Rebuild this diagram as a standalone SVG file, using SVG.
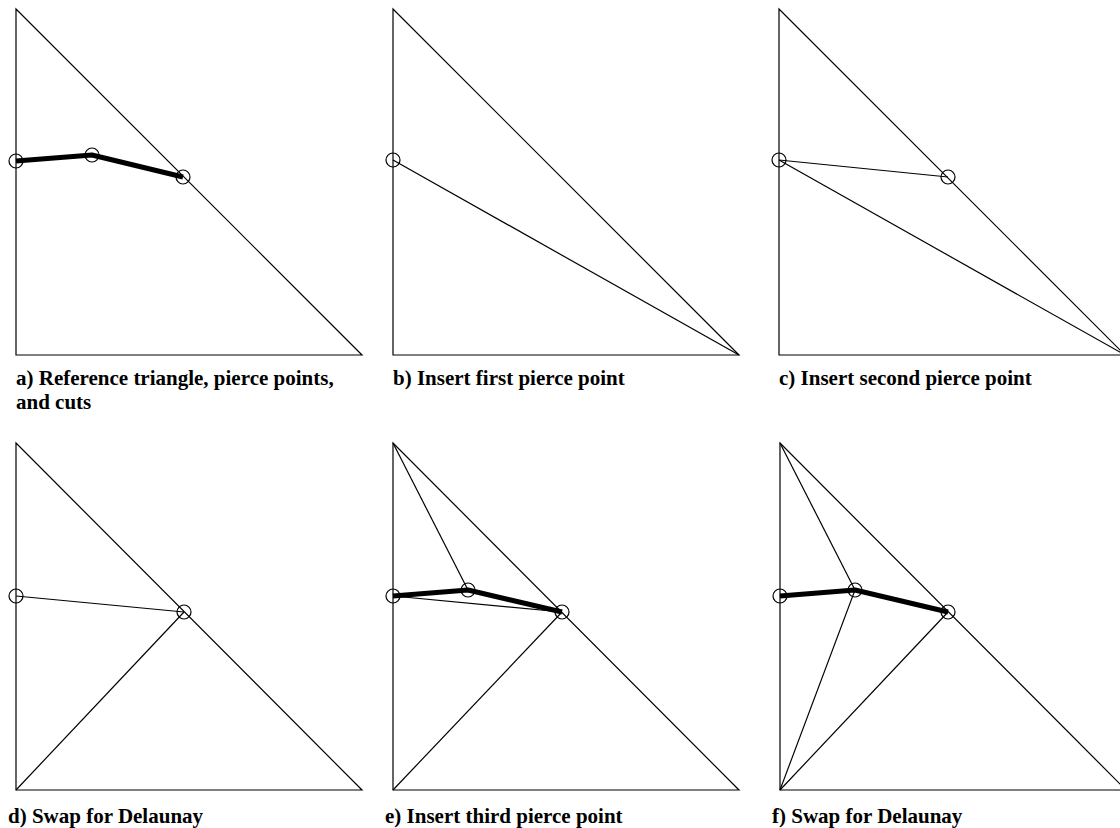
<svg xmlns="http://www.w3.org/2000/svg" width="1120" height="828" viewBox="0 0 1120 828">
<style>
.tri{fill:none;stroke:#000;stroke-width:1.2}
.e{stroke:#000;stroke-width:1.2;fill:none}
.cut{stroke:#000;stroke-width:5;fill:none;stroke-linejoin:round}
.pt{fill:none;stroke:#000;stroke-width:1.2}
.lbl{font-family:"Liberation Serif",serif;font-weight:bold;font-size:21px;fill:#000}
</style>
<rect width="1120" height="828" fill="#fff"/>
<g id="panel-a">
<polygon class="tri" points="16,9 16,355 362,355"/>
<polyline class="cut" points="16,161 92,155 183,177"/>
<circle class="pt" cx="16" cy="161" r="7"/>
<circle class="pt" cx="92" cy="155" r="7"/>
<circle class="pt" cx="183" cy="177" r="7"/>
<text class="lbl" x="16" y="385">a) Reference triangle, pierce points,</text>
<text class="lbl" x="16" y="409">and cuts</text>
</g>
<g id="panel-b">
<polygon class="tri" points="393,9 393,355 739,355"/>
<line class="e" x1="393" y1="160" x2="739" y2="355"/>
<circle class="pt" cx="393" cy="160" r="7"/>
<text class="lbl" x="393" y="385">b) Insert first pierce point</text>
</g>
<g id="panel-c">
<polygon class="tri" points="779,9 779,355 1125,355"/>
<line class="e" x1="779" y1="160" x2="948" y2="177"/>
<line class="e" x1="779" y1="160" x2="1125" y2="355"/>
<circle class="pt" cx="779" cy="160" r="7"/>
<circle class="pt" cx="948" cy="177" r="7"/>
<text class="lbl" x="779" y="385">c) Insert second pierce point</text>
</g>
<g id="panel-d">
<polygon class="tri" points="16,443 16,790 362,790"/>
<line class="e" x1="16" y1="596" x2="184" y2="612"/>
<line class="e" x1="16" y1="790" x2="184" y2="612"/>
<circle class="pt" cx="16" cy="596" r="7"/>
<circle class="pt" cx="184" cy="612" r="7"/>
<text class="lbl" x="8" y="823">d) Swap for Delaunay</text>
</g>
<g id="panel-e">
<polygon class="tri" points="393,443 393,790 739,790"/>
<line class="e" x1="393" y1="443" x2="468" y2="590"/>
<line class="e" x1="393" y1="596" x2="562" y2="612"/>
<line class="e" x1="393" y1="790" x2="562" y2="612"/>
<polyline class="cut" points="393,596 468,590 562,612"/>
<circle class="pt" cx="393" cy="596" r="7"/>
<circle class="pt" cx="468" cy="590" r="7"/>
<circle class="pt" cx="562" cy="612" r="7"/>
<text class="lbl" x="385" y="823">e) Insert third pierce point</text>
</g>
<g id="panel-f">
<polygon class="tri" points="780,443 780,790 1126,790"/>
<line class="e" x1="780" y1="443" x2="855" y2="590"/>
<line class="e" x1="780" y1="790" x2="855" y2="590"/>
<line class="e" x1="780" y1="790" x2="948" y2="612"/>
<polyline class="cut" points="780,596 855,590 948,612"/>
<circle class="pt" cx="780" cy="596" r="7"/>
<circle class="pt" cx="855" cy="590" r="7"/>
<circle class="pt" cx="948" cy="612" r="7"/>
<text class="lbl" x="772" y="823">f) Swap for Delaunay</text>
</g>
</svg>
